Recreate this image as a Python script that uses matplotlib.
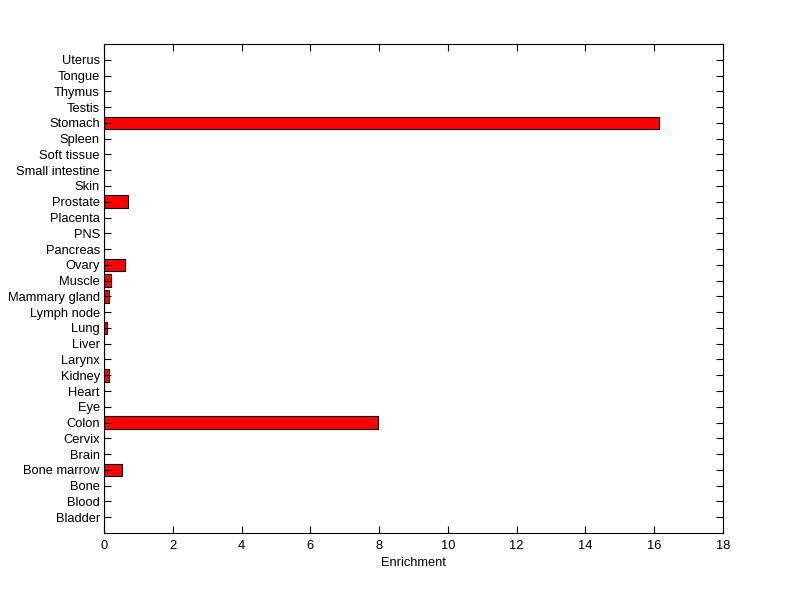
import matplotlib
matplotlib.use("Agg")
import matplotlib.pyplot as plt

tissues = ["Bladder", "Blood", "Bone", "Bone marrow", "Brain", "Cervix", "Colon", "Eye",
           "Heart", "Kidney", "Larynx", "Liver", "Lung", "Lymph node", "Mammary gland",
           "Muscle", "Ovary", "Pancreas", "PNS", "Placenta", "Prostate", "Skin",
           "Small intestine", "Soft tissue", "Spleen", "Stomach", "Testis", "Thymus",
           "Tongue", "Uterus"]
enrichment = [0, 0, 0, 0.51, 0, 0, 7.97, 0,
              0, 0.14, 0, 0, 0.08, 0, 0.14,
              0.19, 0.60, 0, 0, 0, 0.69, 0,
              0, 0, 0, 16.13, 0, 0, 0, 0]
xticks = [0, 2, 4, 6, 8, 10, 12, 14, 16, 18]

fs = 9.3
fig = plt.figure(figsize=(8, 5.99), dpi=100)
ax = fig.add_axes([104/800, 1-533/599, (723-104)/800, (533-44)/599])
pos = list(range(1, len(tissues) + 1))
ax.barh(pos, enrichment, height=0.8, color="#ff0000", edgecolor="black", linewidth=0.8)
ax.set_ylim(0, len(tissues) + 1)
ax.set_xlim(0, 18)
ax.set_yticks(pos)
ax.set_yticklabels(tissues, fontsize=fs, family="Liberation Sans")
ax.set_xticks(xticks)
ax.set_xticklabels([str(t) for t in xticks], fontsize=fs, family="Liberation Sans")
ax.tick_params(axis="y", direction="in", left=True, right=True, length=5, width=0.8, pad=3)
ax.tick_params(axis="x", direction="in", top=True, bottom=True, length=5, width=0.8, pad=5)
for s in ax.spines.values():
    s.set_linewidth(0.8)
ax.set_xlabel("Enrichment", fontsize=fs, family="Liberation Sans", labelpad=4)
fig.savefig("out.png", dpi=100, facecolor="white")
